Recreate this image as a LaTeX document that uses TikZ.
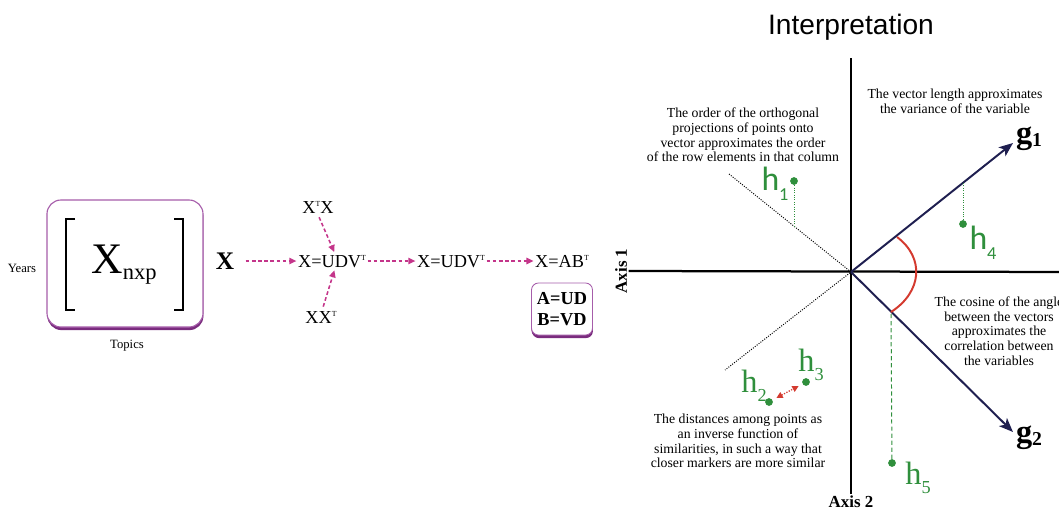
\documentclass[tikz,border=0pt]{standalone}
\usepackage{fontspec}
\setmainfont{Liberation Serif}
\setsansfont{Liberation Sans}
\newfontfamily\hsans{Carlito}
\usetikzlibrary{arrows.meta,shadows}

\definecolor{flowpink}{HTML}{C4358A}
\definecolor{boxline}{HTML}{A65DAA}
\definecolor{boxshade}{HTML}{7A2C7E}
\definecolor{vecnavy}{HTML}{1F1F50}
\definecolor{arcred}{HTML}{D43A2F}
\definecolor{ptgreen}{HTML}{2F8F3C}

\newcommand{\supT}{\raisebox{0.8ex}{\fontsize{5.5}{5.5}\selectfont T}}
\newcommand{\hsub}[1]{h\raisebox{-0.28em}{\fontsize{13}{13}\selectfont #1}}

\tikzset{
  flow/.style={flowpink, line width=1.1pt, dash pattern=on 2.6pt off 1.8pt, -{Triangle[length=5pt,width=4.5pt]}},
  eqn/.style={font=\fontsize{13}{13}\selectfont, inner sep=1pt},
  mbox/.style={draw=boxline, line width=0.8pt, fill=white, rounded corners=10pt,
    drop shadow={shadow xshift=0.3pt, shadow yshift=-2.2pt, fill=boxshade, opacity=1}},
  axisline/.style={line width=1.6pt, black},
  axislab/.style={font=\fontsize{12}{12}\selectfont\bfseries, inner sep=1pt},
  vec/.style={vecnavy, line width=1.4pt, -{Stealth[length=10pt,width=8pt,inset=2.5pt]}},
  guide/.style={densely dotted, line width=0.7pt},
  proj/.style={ptgreen, line width=0.7pt, densely dotted},
  dot/.style={circle, fill=ptgreen, inner sep=0pt, minimum size=5.5pt},
  hlab/.style={ptgreen, font=\fontsize{23}{23}\selectfont, inner sep=0pt},
  note/.style={font=\fontsize{9.8}{10.5}\selectfont, align=center, inner sep=0pt},
}

\begin{document}
\begin{tikzpicture}[x=0.025cm, y=-0.025cm]
\useasboundingbox (0,0) rectangle (1059,513);
\clip (0,0) rectangle (1059,513);

% data matrix
\node[mbox, minimum width=3.9cm, minimum height=3.175cm] (mbox) at (125,263.5) {};
\draw[line width=1pt] (75,219) -- (66,219) -- (66,310) -- (75,310);
\draw[line width=1pt] (174,219) -- (183,219) -- (183,310) -- (174,310);
\node[anchor=base west, inner sep=0pt] (mat) at (91,273)
  {{\fontsize{31}{31}\selectfont X}\raisebox{-0.45em}{\fontsize{16}{16}\selectfont nxp}};
\node[font=\fontsize{9}{10}\selectfont] (years) at (22,268) {Years};
\node[font=\fontsize{9}{10}\selectfont] (topics) at (127,346) {Topics};

% decomposition steps
\node[font=\fontsize{18}{18}\selectfont\bfseries, inner sep=1pt] (bx) at (225,261) {X};
\node[eqn, anchor=base] (svd1) at (332,267) {X=UDV\supT};
\node[eqn, anchor=base] (xtx) at (318,213) {X\supT X};
\node[eqn, anchor=base] (xxt) at (321,323) {XX\supT};
\node[eqn, anchor=base] (svd2) at (451,267) {X=UDV\supT};
\node[eqn, anchor=base] (abt) at (562,267) {X=AB\supT};
\node[mbox, rounded corners=5pt, line width=0.6pt, drop shadow={shadow xshift=0pt, shadow yshift=-1.5pt, fill=boxshade, opacity=1},
  minimum width=1.525cm, minimum height=1.3cm, inner sep=0pt, align=center,
  font=\fontsize{13}{15}\selectfont\bfseries] (ab) at (562,309) {A=UD\\B=VD};

\draw[flow, shorten <=7pt] (bx.east) -- (bx.east -| svd1.west);
\draw[flow] (svd1.east |- bx.east) -- (svd2.west |- bx.east);
\draw[flow] (svd2.east |- bx.east) -- (abt.west |- bx.east);
\draw[flow, shorten <=2pt, shorten >=1pt] (xtx.south) -- ([xshift=2pt]svd1.north);
\draw[flow, shorten <=2pt, shorten >=1pt] ([xshift=1pt]xxt.north) -- ([xshift=2pt]svd1.south);

% biplot
\node[font=\sffamily\fontsize{20}{20}\selectfont] (title) at (851,27) {Interpretation};
\coordinate (O) at (851,272);
\node[axislab] (ax2) at (851,502) {Axis 2};
\node[axislab, rotate=90] (ax1) at (621,271) {Axis 1};
\draw[axisline] (851,58) -- (ax2.north);
\draw[axisline] (ax1.south) -- (1065,272);

\draw[guide] (729,174) -- (O) -- (725,370);

\coordinate (g1tip) at (1013,143);
\coordinate (g2tip) at (1013,432);
\draw[vec] (O) -- (g1tip);
\draw[vec] (O) -- (g2tip);
\node[font=\fontsize{23}{23}\selectfont\bfseries, inner sep=0pt] (g1) at (1029,139)
  {g\raisebox{-0.1em}{\fontsize{14}{14}\selectfont 1}};
\node[font=\fontsize{23}{23}\selectfont\bfseries, inner sep=0pt] (g2) at (1029,438)
  {g\raisebox{-0.1em}{\fontsize{14}{14}\selectfont 2}};

\draw[arcred, line width=1.4pt] (897,237) .. controls (925,258) and (922,292) .. (891,312);

% points and projections
\node[dot] (h1) at (794,181) {};
\node[dot] (h2) at (769,402) {};
\node[dot] (h3) at (806,382) {};
\node[dot] (h4) at (963,224) {};
\node[dot] (h5) at (892,463) {};
\coordinate (h1p) at (794,226);
\coordinate (h4p) at (963,183);
\coordinate (h5p) at (891,312);
\draw[proj] (h1) -- (h1p);
\draw[proj] (h4) -- (h4p);
\draw[proj, densely dashed] (h5) -- (h5p);
\draw[arcred, densely dotted, line width=0.9pt, {Triangle[length=4.5pt,width=4.5pt]}-{Triangle[length=4.5pt,width=4.5pt]},
  shorten <=3pt, shorten >=3pt] (h2) -- (h3);

\node[hlab, font=\hsans\fontsize{24}{24}\selectfont] (h1l) at (775,184) {\hsub{1}};
\node[hlab, font=\hsans\fontsize{24}{24}\selectfont] (h4l) at (983,243) {\hsub{4}};
\node[hlab] (h2l) at (754,386) {\hsub{2}};
\node[hlab] (h3l) at (811,365) {\hsub{3}};
\node[hlab] (h5l) at (918,478) {\hsub{5}};

% notes
\node[note] (nvar) at (955,101) {The vector length approximates\\the variance of the variable};
\node[note] (nord) at (743,135) {The order of the orthogonal\\projections of points onto\\vector approximates the order\\of the row elements in that column};
\node[note] (ncos) at (999,331) {The cosine of the angle\\between the vectors\\approximates the\\correlation between\\the variables};
\node[note] (ndist) at (738,441) {The distances among points as\\an inverse function of\\similarities, in such a way that\\closer markers are more similar};
\end{tikzpicture}
\end{document}
